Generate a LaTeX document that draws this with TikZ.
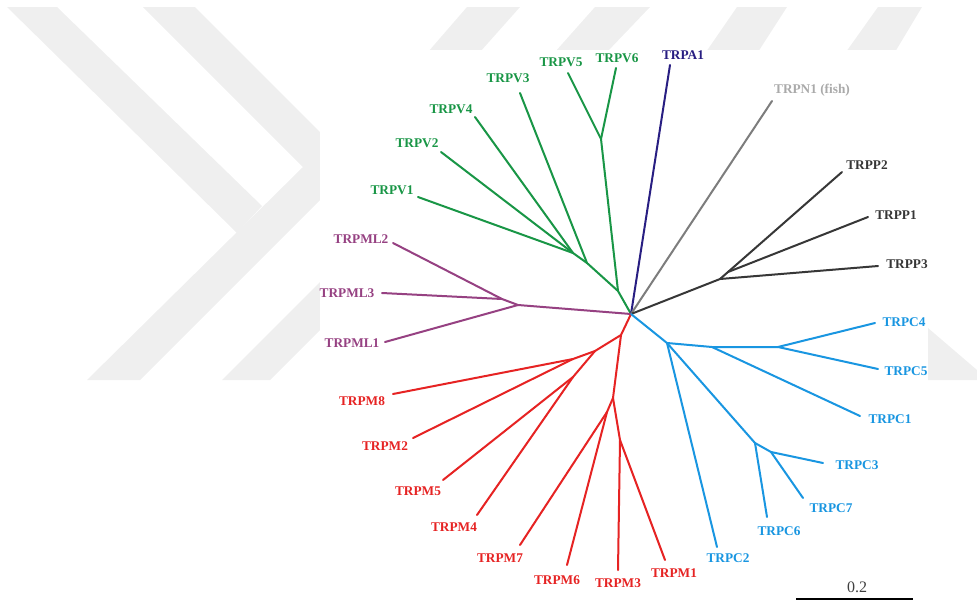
\documentclass[tikz,border=0pt]{standalone}
\usepackage{fontspec}
\setmainfont{Liberation Serif}
\definecolor{wm}{RGB}{239,239,239}
\definecolor{colV}{RGB}{25,150,70}
\definecolor{colA}{RGB}{40,30,130}
\definecolor{colNl}{RGB}{125,125,125}
\definecolor{colNt}{RGB}{170,170,170}
\definecolor{colP}{RGB}{55,55,55}
\definecolor{colML}{RGB}{150,65,130}
\definecolor{colM}{RGB}{230,35,35}
\definecolor{colC}{RGB}{25,150,225}
\tikzset{
  br/.style={line width=2pt, line cap=round, line join=round},
  lab/.style={font=\fontsize{13.3}{15}\selectfont\bfseries, inner sep=0pt, anchor=center},
}
\begin{document}
\begin{tikzpicture}[x=1pt,y=-1pt]
\useasboundingbox (0,0) rectangle (977,603);
% watermark
\fill[wm] (7,7) -- (57,7) -- (262,206) -- (237,233) -- cycle;
\fill[wm] (143,7) -- (195,7) -- (354,166) -- (140,380) -- (87,380) -- (303,167) -- cycle;
\fill[wm] (222,380) -- (270,380) -- (340,310) -- (340,262) -- cycle;
\fill[wm] (467,7) -- (520,7) -- (480,52) -- (428,52) -- cycle;
\fill[wm] (595,7) -- (650,7) -- (607,52) -- (555,52) -- cycle;
\fill[wm] (737,7) -- (787,7) -- (758,52) -- (706,52) -- cycle;
\fill[wm] (878,7) -- (922,7) -- (895,52) -- (846,52) -- cycle;
\fill[wm] (928,328) -- (977,370) -- (977,380) -- (928,380) -- cycle;
\fill[white] (320,50) rectangle (928,603);

% tree coordinates
\coordinate (R) at (631,314);
% TRPV
\coordinate (VC) at (618,291);
\coordinate (V56) at (601,139);
\coordinate (V5) at (568,73);
\coordinate (V6) at (616,68);
\coordinate (VB) at (587,263);
\coordinate (V3) at (520,93);
\coordinate (VA) at (573,253);
\coordinate (V4) at (475,117);
\coordinate (V2) at (441,152);
\coordinate (V1) at (418,197);
% TRPA / TRPN
\coordinate (A1) at (670,65);
\coordinate (N1) at (772,101);
% TRPP
\coordinate (PP) at (720,279);
\coordinate (PQ) at (728,272);
\coordinate (P2) at (842,172);
\coordinate (P1) at (868,217);
\coordinate (P3) at (878,266);
% TRPML
\coordinate (ML) at (518,305);
\coordinate (ML23) at (502,299);
\coordinate (ML2) at (393,243);
\coordinate (ML3) at (382,293);
\coordinate (ML1) at (385,342);
% TRPM
\coordinate (M0) at (621,335);
\coordinate (Ma) at (595,351);
\coordinate (M82) at (573,359);
\coordinate (M8) at (393,394);
\coordinate (M2) at (413,438);
\coordinate (M54) at (573,377);
\coordinate (M5) at (443,480);
\coordinate (M4) at (477,515);
\coordinate (Mb) at (613,398);
\coordinate (M76) at (607,412);
\coordinate (M7) at (520,545);
\coordinate (M6) at (567,565);
\coordinate (M31) at (620,440);
\coordinate (M3) at (618,570);
\coordinate (M1) at (665,560);
% TRPC
\coordinate (C0) at (667,343);
\coordinate (C1n) at (712,347);
\coordinate (C45) at (778,347);
\coordinate (C4) at (875,323);
\coordinate (C5) at (878,369);
\coordinate (C1) at (860,416);
\coordinate (C2) at (717,547);
\coordinate (C3n) at (755,443);
\coordinate (C6) at (767,517);
\coordinate (C37) at (771,452);
\coordinate (C3) at (823,463);
\coordinate (C7) at (803,498);
% scale bar
\coordinate (SB1) at (796,599);
\coordinate (SB2) at (913,599);

% branches
\draw[br,colV] (R) -- (VC) -- (V56) -- (V5);
\draw[br,colV] (V56) -- (V6);
\draw[br,colV] (VC) -- (VB) -- (V3);
\draw[br,colV] (VB) -- (VA) -- (V4);
\draw[br,colV] (VA) -- (V2);
\draw[br,colV] (VA) -- (V1);
\draw[br,colA] (R) -- (A1);
\draw[br,colNl] (R) -- (N1);
\draw[br,colP] (R) -- (PP) -- (PQ) -- (P2);
\draw[br,colP] (PQ) -- (P1);
\draw[br,colP] (PP) -- (P3);
\draw[br,colML] (R) -- (ML) -- (ML23) -- (ML2);
\draw[br,colML] (ML23) -- (ML3);
\draw[br,colML] (ML) -- (ML1);
\draw[br,colM] (R) -- (M0) -- (Ma) -- (M82) -- (M8);
\draw[br,colM] (M82) -- (M2);
\draw[br,colM] (Ma) -- (M54) -- (M5);
\draw[br,colM] (M54) -- (M4);
\draw[br,colM] (M0) -- (Mb) -- (M76) -- (M7);
\draw[br,colM] (M76) -- (M6);
\draw[br,colM] (Mb) -- (M31) -- (M3);
\draw[br,colM] (M31) -- (M1);
\draw[br,colC] (R) -- (C0) -- (C1n) -- (C45) -- (C4);
\draw[br,colC] (C45) -- (C5);
\draw[br,colC] (C1n) -- (C1);
\draw[br,colC] (C0) -- (C2);
\draw[br,colC] (C0) -- (C3n) -- (C6);
\draw[br,colC] (C3n) -- (C37) -- (C3);
\draw[br,colC] (C37) -- (C7);
\draw[line width=2.8pt] (SB1) -- (SB2);

% labels
\node[lab,colV] (tV5) at (561,62) {TRPV5};
\node[lab,colV] (tV6) at (617,58) {TRPV6};
\node[lab,colV] (tV3) at (508,78) {TRPV3};
\node[lab,colV] (tV4) at (451,109) {TRPV4};
\node[lab,colV] (tV2) at (417,143) {TRPV2};
\node[lab,colV] (tV1) at (392,190) {TRPV1};
\node[lab,colML] (tML2) at (361,239) {TRPML2};
\node[lab,colML] (tML3) at (347,293) {TRPML3};
\node[lab,colML] (tML1) at (352,343) {TRPML1};
\node[lab,colA] (tA1) at (683,55) {TRPA1};
\node[lab,colNt] (tN1) at (812,90) {TRPN1 (fish)};
\node[lab,colP] (tP2) at (867,165) {TRPP2};
\node[lab,colP] (tP1) at (896,215) {TRPP1};
\node[lab,colP] (tP3) at (907,264) {TRPP3};
\node[lab,colC] (tC4) at (904,322) {TRPC4};
\node[lab,colC] (tC5) at (906,371) {TRPC5};
\node[lab,colC] (tC1) at (890,419) {TRPC1};
\node[lab,colC] (tC3) at (857,465) {TRPC3};
\node[lab,colC] (tC7) at (831,508) {TRPC7};
\node[lab,colC] (tC6) at (779,531) {TRPC6};
\node[lab,colC] (tC2) at (728,558) {TRPC2};
\node[lab,colM] (tM1) at (674,573) {TRPM1};
\node[lab,colM] (tM3) at (618,583) {TRPM3};
\node[lab,colM] (tM6) at (557,580) {TRPM6};
\node[lab,colM] (tM7) at (500,558) {TRPM7};
\node[lab,colM] (tM4) at (454,527) {TRPM4};
\node[lab,colM] (tM5) at (418,491) {TRPM5};
\node[lab,colM] (tM2) at (385,446) {TRPM2};
\node[lab,colM] (tM8) at (362,401) {TRPM8};
\node[inner sep=0pt, font=\fontsize{16}{18}\selectfont, text=black!75] (tS) at (857,587) {0.2};
\end{tikzpicture}
\end{document}
